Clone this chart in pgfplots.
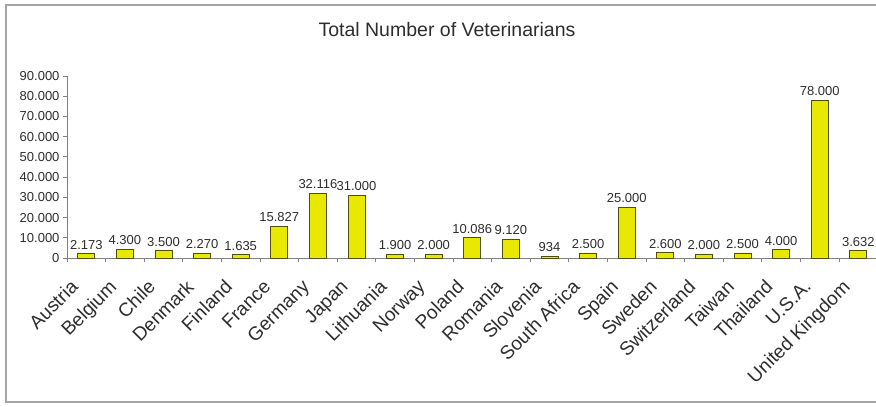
\documentclass[border=0pt]{standalone}
\usepackage{fontspec}
\setmainfont{Liberation Sans}
\usepackage{pgfplots}
\pgfplotsset{compat=1.18}
\definecolor{baryellow}{RGB}{232,232,0}
\definecolor{baredge}{RGB}{80,80,10}
\definecolor{axisgray}{RGB}{128,128,128}
\definecolor{framegray}{RGB}{165,165,165}
\definecolor{txt}{RGB}{45,45,45}

\begin{document}
\begin{tikzpicture}[x=1bp,y=1bp]
  % page = 876x406 px, axis lower left corner at (67,258) px
  \path[use as bounding box] (-67,-148) rectangle (809,258);
  \draw[framegray, line width=1.6bp] (815,253) -- (-61,253) -- (-61,-144) -- (815,-144);
  \node[txt, font=\fontsize{19.5bp}{22bp}\selectfont] at (380,228) {Total Number of Veterinarians};

  \begin{axis}[
      at={(0,0)}, anchor=south west,
      scale only axis,
      width=810.6bp, height=182bp,
      xmin=-0.5, xmax=20.5,
      ymin=0, ymax=90000,
      axis lines*=left,
      axis line style={axisgray, line width=0.8bp},
      tick style={axisgray, line width=0.8bp},
      tick align=outside,
      major tick length=4bp,
      xtick={-0.5,0.5,...,20.5},
      xticklabels={},
      extra x ticks={0,1,...,20},
      extra x tick labels={Austria,Belgium,Chile,Denmark,Finland,France,Germany,Japan,Lithuania,Norway,Poland,Romania,Slovenia,South Africa,Spain,Sweden,Switzerland,Taiwan,Thailand,U.S.A.,United Kingdom},
      extra x tick style={major tick length=0pt,
          xticklabel style={xshift=-17bp, yshift=-19bp, rotate=45, anchor=north east, inner sep=1bp,
              font=\fontsize{19bp}{21bp}\selectfont, text=txt}},
      ytick={0,10000,...,90000},
      scaled y ticks=false,
      yticklabel style={font=\fontsize{13bp}{15bp}\selectfont, text=txt,
          /pgf/number format/.cd, 1000 sep={.}, assume math mode=true},
      ybar, bar width=17bp,
      nodes near coords,
      every node near coord/.append style={font=\fontsize{13bp}{15bp}\selectfont,
          text=txt, inner sep=4bp,
          /pgf/number format/.cd, 1000 sep={.}, assume math mode=true},
      clip=false,
    ]
    \addplot[fill=baryellow, draw=baredge, line width=0.9bp] coordinates {
      (0,2173) (1,4300) (2,3500) (3,2270) (4,1635) (5,15827) (6,32116)
      (7,31000) (8,1900) (9,2000) (10,10086) (11,9120) (12,934) (13,2500)
      (14,25000) (15,2600) (16,2000) (17,2500) (18,4000) (19,78000) (20,3632)
    };
  \end{axis}
\end{tikzpicture}
\end{document}
